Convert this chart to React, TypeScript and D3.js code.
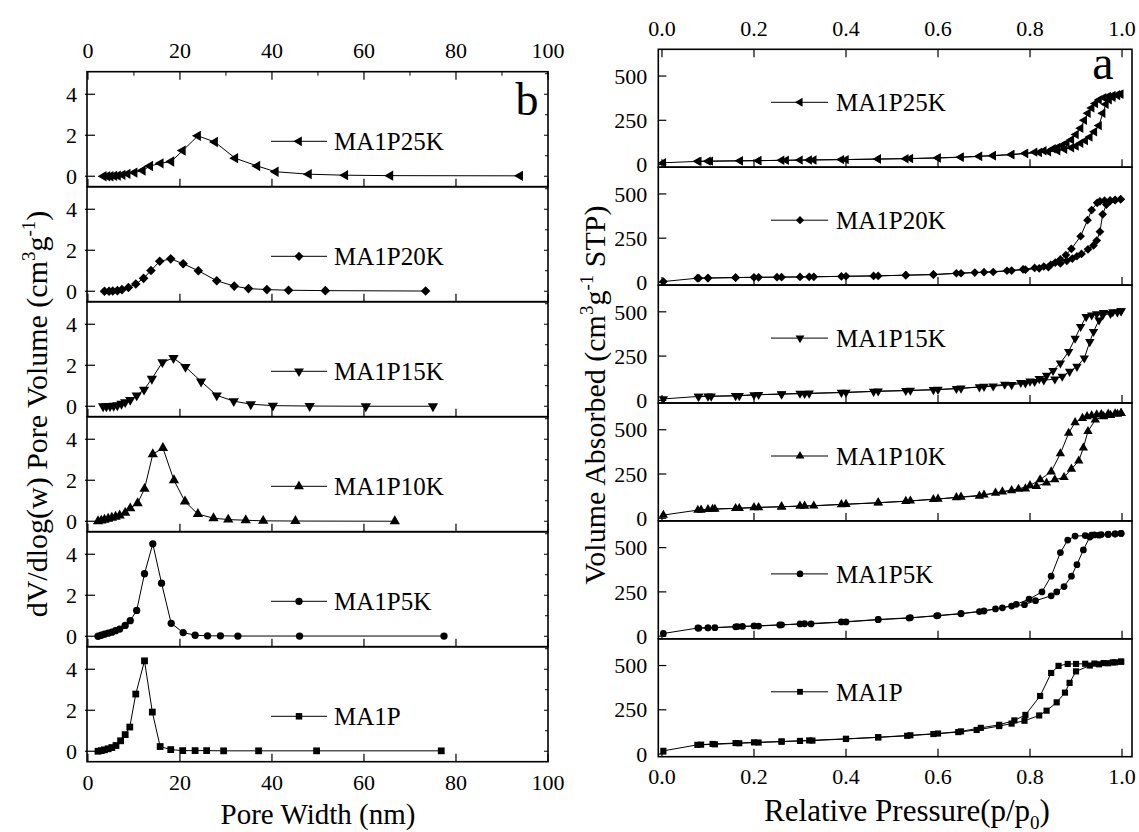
import React from 'react';
import * as d3 from 'd3';

type Pt = [number, number];

// ---------- categories ----------
const samples = ['MA1P25K', 'MA1P20K', 'MA1P15K', 'MA1P10K', 'MA1P5K', 'MA1P'];
const markerTypes = ['triangleLeft', 'diamond', 'triangleDown', 'triangleUp', 'circle', 'square'];

// ---------- tick labels ----------
const poreTicks = [0, 20, 40, 60, 80, 100];
const poreMinorTicks = [10, 30, 50, 70, 90];
const psdYTicks = [0, 2, 4];
const psdYMinor = [1, 3, 5];
const pressTicks = [0, 0.2, 0.4, 0.6, 0.8, 1.0];
const isoYTicks = [0, 250, 500];

// ---------- (b) pore size distributions: [pore width nm, dV/dlog(w)] ----------
const psd_MA1P25K: Pt[] = [[3.4,0],[4.2,0],[4.9,0],[5.7,0.02],[6.5,0.03],[7.5,0.07],[8.6,0.12],[10.1,0.18],[11.9,0.28],[13.5,0.5],[15.8,0.63],[18.1,0.72],[20.6,1.25],[23.9,1.97],[27.6,1.67],[32.0,0.88],[36.8,0.5],[40.8,0.22],[48.0,0.1],[55.9,0.05],[65.7,0.03],[93.9,0.02]];
const psd_MA1P20K: Pt[] = [[3.6,0],[4.6,0],[5.4,0.01],[6.4,0.03],[7.4,0.08],[8.8,0.18],[10.4,0.35],[12.1,0.63],[13.7,1.01],[15.6,1.46],[18.0,1.58],[20.7,1.34],[24.0,1.0],[28.0,0.51],[31.8,0.25],[34.9,0.13],[38.9,0.08],[43.6,0.05],[51.6,0.03],[73.4,0.01]];
const psd_MA1P15K: Pt[] = [[3.3,0],[4.0,0],[4.8,0.01],[5.6,0.02],[6.4,0.05],[7.3,0.12],[8.1,0.2],[9.2,0.31],[10.6,0.53],[12.2,0.81],[13.9,1.34],[16.2,2.15],[18.6,2.35],[21.2,1.92],[24.6,1.21],[28.0,0.53],[31.7,0.25],[35.4,0.1],[40.2,0.03],[48.2,0.01],[60.4,0],[75.0,0]];
const psd_MA1P10K: Pt[] = [[2.2,0],[2.9,0.03],[3.6,0.07],[4.4,0.12],[5.2,0.17],[6.0,0.22],[6.9,0.28],[8.1,0.41],[9.2,0.63],[10.8,0.88],[12.3,1.58],[14.1,3.27],[16.3,3.57],[18.7,2.0],[21.1,0.96],[23.9,0.35],[27.3,0.15],[30.5,0.08],[34.3,0.05],[38.1,0.02],[45.1,0.01],[66.7,0]];
const psd_MA1P5K: Pt[] = [[2.2,0],[2.9,0.05],[3.6,0.1],[4.4,0.15],[5.2,0.2],[6.0,0.27],[6.9,0.35],[8.1,0.53],[9.2,0.76],[10.6,1.26],[12.3,3.05],[14.1,4.51],[16.0,2.59],[18.1,0.63],[20.7,0.18],[23.3,0.05],[26.0,0.02],[28.8,0.02],[32.6,0.01],[46.0,0.01],[77.4,0.01]];
const psd_MA1P: Pt[] = [[2.2,0],[2.9,0.03],[3.6,0.07],[4.4,0.12],[5.2,0.18],[6.1,0.28],[7.1,0.51],[8.1,0.81],[9.1,1.18],[10.4,2.79],[12.3,4.41],[14.0,1.91],[15.7,0.23],[18.0,0.08],[20.6,0.03],[23.3,0.03],[25.8,0.03],[29.5,0.02],[37.1,0.02],[49.7,0.02],[76.8,0.02]];

// ---------- (a) N2 isotherms: [p/p0, volume adsorbed] ----------
const iso_MA1P25K_ads: Pt[] = [[0.003,10],[0.078,18],[0.10,19],[0.17,21],[0.21,22],[0.26,24],[0.30,25],[0.33,26],[0.39,28],[0.47,31],[0.53,33],[0.60,37],[0.65,41],[0.69,46],[0.72,50],[0.76,56],[0.79,62],[0.82,68],[0.84,72],[0.86,78],[0.875,86],[0.89,95],[0.90,104],[0.91,120],[0.92,135],[0.93,155],[0.94,185],[0.95,220],[0.958,290],[0.965,340],[0.972,365],[0.98,380],[0.99,390],[0.997,398]];
const iso_MA1P25K_des: Pt[] = [[0.997,398],[0.99,394],[0.98,390],[0.97,385],[0.96,378],[0.95,365],[0.942,345],[0.934,320],[0.926,290],[0.918,250],[0.91,205],[0.90,170],[0.89,140],[0.88,122],[0.87,108],[0.86,97],[0.85,89],[0.83,78],[0.81,70],[0.79,64],[0.76,57],[0.72,51],[0.69,47],[0.65,42],[0.60,38],[0.54,34],[0.47,31],[0.40,28],[0.32,26],[0.27,24],[0.21,22],[0.17,21],[0.105,19],[0.08,18]];

const iso_MA1P20K_ads: Pt[] = [[0.003,5],[0.077,24],[0.10,25],[0.16,28],[0.21,29],[0.26,30],[0.30,31],[0.33,32],[0.40,35],[0.47,37],[0.53,41],[0.59,44],[0.64,52],[0.68,56],[0.72,59],[0.76,67],[0.79,72],[0.82,80],[0.84,87],[0.866,107],[0.88,122],[0.892,135],[0.902,148],[0.912,161],[0.926,187],[0.938,209],[0.945,237],[0.952,287],[0.958,385],[0.966,440],[0.974,459],[0.985,465],[0.997,470]];
const iso_MA1P20K_des: Pt[] = [[0.997,470],[0.985,466],[0.974,463],[0.962,462],[0.952,458],[0.946,450],[0.934,409],[0.925,352],[0.91,261],[0.89,190],[0.878,155],[0.866,130],[0.855,112],[0.845,100],[0.83,90],[0.81,82],[0.785,74],[0.75,66],[0.70,58],[0.65,52],[0.59,45],[0.53,41],[0.46,37],[0.39,34],[0.32,32],[0.25,30],[0.20,29],[0.16,27],[0.10,25],[0.08,24]];

const iso_MA1P15K_ads: Pt[] = [[0.003,8],[0.079,22],[0.107,23],[0.168,26],[0.21,32],[0.26,36],[0.30,39],[0.32,40],[0.40,45],[0.47,52],[0.54,56],[0.59,60],[0.64,66],[0.69,75],[0.72,80],[0.76,88],[0.79,98],[0.81,106],[0.83,114],[0.854,120],[0.87,135],[0.886,163],[0.902,191],[0.918,238],[0.93,331],[0.938,388],[0.95,453],[0.958,481],[0.975,490],[0.99,498],[0.998,505]];
const iso_MA1P15K_des: Pt[] = [[0.998,505],[0.98,500],[0.96,495],[0.945,488],[0.934,481],[0.922,472],[0.91,416],[0.898,350],[0.884,275],[0.866,210],[0.85,168],[0.836,140],[0.82,122],[0.80,108],[0.78,100],[0.745,90],[0.70,78],[0.65,68],[0.60,61],[0.53,55],[0.46,50],[0.39,44],[0.31,38],[0.26,35],[0.20,31],[0.16,26],[0.10,23],[0.08,22]];

const iso_MA1P10K_ads: Pt[] = [[0.003,18],[0.078,46],[0.10,50],[0.115,52],[0.168,56],[0.21,61],[0.26,65],[0.30,69],[0.33,70],[0.39,78],[0.47,87],[0.53,96],[0.59,107],[0.64,117],[0.69,126],[0.725,143],[0.76,157],[0.79,167],[0.814,181],[0.836,200],[0.854,218],[0.874,231],[0.89,278],[0.906,324],[0.916,398],[0.926,491],[0.942,556],[0.96,575],[0.975,582],[0.99,588],[0.998,593]];
const iso_MA1P10K_des: Pt[] = [[0.998,593],[0.985,591],[0.97,589],[0.955,587],[0.945,585],[0.934,580],[0.924,575],[0.914,565],[0.898,541],[0.884,481],[0.866,365],[0.846,263],[0.822,218],[0.80,185],[0.775,165],[0.74,150],[0.70,132],[0.65,120],[0.60,109],[0.54,98],[0.47,88],[0.40,79],[0.31,69],[0.26,65],[0.20,61],[0.16,56],[0.11,52],[0.085,47]];

const iso_MA1P5K_ads: Pt[] = [[0.003,15],[0.078,46],[0.10,47],[0.115,48],[0.164,54],[0.175,55],[0.21,57],[0.256,63],[0.30,69],[0.324,69],[0.40,80],[0.47,93],[0.537,102],[0.597,115],[0.65,126],[0.69,139],[0.725,154],[0.76,170],[0.788,178],[0.812,200],[0.846,228],[0.858,250],[0.874,280],[0.89,339],[0.902,404],[0.916,487],[0.93,560],[0.95,570],[0.97,574],[0.985,577],[0.998,580]];
const iso_MA1P5K_des: Pt[] = [[0.998,580],[0.985,578],[0.97,576],[0.955,574],[0.94,572],[0.934,570],[0.92,568],[0.898,565],[0.882,543],[0.866,472],[0.846,339],[0.826,250],[0.798,209],[0.77,180],[0.74,160],[0.70,142],[0.65,128],[0.60,116],[0.54,104],[0.47,94],[0.39,80],[0.31,70],[0.26,64],[0.20,58],[0.16,53],[0.10,47],[0.08,45]];

const iso_MA1P_ads: Pt[] = [[0.003,18],[0.077,52],[0.115,55],[0.168,61],[0.21,65],[0.26,70],[0.30,74],[0.327,76],[0.40,85],[0.47,94],[0.533,103],[0.59,113],[0.644,124],[0.684,136],[0.733,158],[0.76,172],[0.788,188],[0.82,218],[0.836,245],[0.858,292],[0.876,347],[0.886,402],[0.90,467],[0.93,500],[0.95,507],[0.97,513],[0.985,518],[0.998,522]];
const iso_MA1P_des: Pt[] = [[0.998,522],[0.98,518],[0.96,514],[0.94,511],[0.92,510],[0.90,509],[0.882,509],[0.862,498],[0.846,458],[0.822,328],[0.79,221],[0.766,190],[0.733,165],[0.693,148],[0.65,128],[0.60,116],[0.54,106],[0.47,95],[0.40,86],[0.32,77],[0.26,71],[0.20,66],[0.16,62],[0.11,57],[0.085,53]];

const psdSeries: Pt[][] = [psd_MA1P25K, psd_MA1P20K, psd_MA1P15K, psd_MA1P10K, psd_MA1P5K, psd_MA1P];
const isoSeries: Pt[][] = [
  [...iso_MA1P25K_ads, ...iso_MA1P25K_des],
  [...iso_MA1P20K_ads, ...iso_MA1P20K_des],
  [...iso_MA1P15K_ads, ...iso_MA1P15K_des],
  [...iso_MA1P10K_ads, ...iso_MA1P10K_des],
  [...iso_MA1P5K_ads, ...iso_MA1P5K_des],
  [...iso_MA1P_ads, ...iso_MA1P_des],
];

// ---------- layout ----------
const W = 1139;
const H = 832;
const FONT = '"Liberation Serif", Tinos, "Times New Roman", "DejaVu Serif", "Noto Serif", serif';
const LP = { x0: 87, x1: 548, top: 71.7, pitch: 115, yMin: -0.51, yMax: 5.1 };
const RP = { x0: 658.3, x1: 1132, top: 49.3, pitch: 117.9, yMin: -15, yMax: 651 };

const xL = d3.scaleLinear().domain([-0.2, 100]).range([LP.x0, LP.x1]);
const xR = d3.scaleLinear().domain([-0.008, 1.0217]).range([RP.x0, RP.x1]);

const TS = { fontFamily: FONT } as const;

function symbolPath(type: string, size: number): { d: string; rot: number } {
  switch (type) {
    case 'square': return { d: d3.symbol(d3.symbolSquare, size)() as string, rot: 0 };
    case 'circle': return { d: d3.symbol(d3.symbolCircle, size)() as string, rot: 0 };
    case 'triangleUp': return { d: d3.symbol(d3.symbolTriangle, size)() as string, rot: 0 };
    case 'triangleDown': return { d: d3.symbol(d3.symbolTriangle, size)() as string, rot: 180 };
    case 'triangleLeft': return { d: d3.symbol(d3.symbolTriangle, size)() as string, rot: -90 };
    case 'diamond': return { d: d3.symbol(d3.symbolSquare, size)() as string, rot: 45 };
    default: return { d: d3.symbol(d3.symbolCircle, size)() as string, rot: 0 };
  }
}

function Markers({ pts, type, size }: { pts: Pt[]; type: string; size: number }) {
  const { d, rot } = symbolPath(type, size);
  return (
    <g>
      {pts.map((p, k) => (
        <path key={k} d={d} transform={`translate(${p[0]},${p[1]}) rotate(${rot})`} fill="#000" />
      ))}
    </g>
  );
}

const TICK_FS = 22;
const MAJ = 8;
const MIN = 4;

function LeftPanel({ i }: { i: number }) {
  const top = LP.top + i * LP.pitch;
  const bottom = top + LP.pitch;
  const y = d3.scaleLinear().domain([LP.yMin, LP.yMax]).range([bottom, top]);
  const data = psdSeries[i];
  const line = d3.line<Pt>().x((d) => xL(d[0])).y((d) => y(d[1]));
  const pts: Pt[] = data.map((d) => [xL(d[0]), y(d[1])]);
  const legY = top + 69.6;
  const lm = symbolPath(markerTypes[i], 42);
  return (
    <g>
      <path d={line(data) as string} fill="none" stroke="#000" strokeWidth={1} />
      <Markers pts={pts} type={markerTypes[i]} size={markerTypes[i] === 'circle' ? 42 : 46} />
      <line x1={271} x2={327} y1={legY} y2={legY} stroke="#000" strokeWidth={1} />
      <path d={lm.d} transform={`translate(299,${legY}) rotate(${lm.rot})`} fill="#000" />
      <text style={TS} x={334} y={legY} dy="0.35em" fontSize={25}>{samples[i]}</text>
      {psdYTicks.map((t) => (
        <g key={t}>
          <line x1={LP.x0 - 2} x2={LP.x0 + MAJ} y1={y(t)} y2={y(t)} stroke="#000" strokeWidth={1.2} />
          <line x1={LP.x1} x2={LP.x1 - MIN} y1={y(t)} y2={y(t)} stroke="#000" strokeWidth={1} />
          <text style={TS} x={LP.x0 - 10} y={y(t)} dy="0.35em" textAnchor="end" fontSize={TICK_FS}>{t}</text>
        </g>
      ))}
      {psdYMinor.map((t) => (
        <line key={t} x1={LP.x1} x2={LP.x1 - 3} y1={y(t)} y2={y(t)} stroke="#000" strokeWidth={1} />
      ))}
      {poreTicks.map((t) => (
        <line key={t} x1={xL(t)} x2={xL(t)} y1={bottom} y2={bottom - MAJ} stroke="#000" strokeWidth={1.2} />
      ))}
      {i === 0 && (
        <g>
          {poreTicks.map((t) => (
            <g key={t}>
              <line x1={xL(t)} x2={xL(t)} y1={top} y2={top + MAJ} stroke="#000" strokeWidth={1.2} />
              <text style={TS} x={xL(t)} y={top - 21} dy="0.35em" textAnchor="middle" fontSize={TICK_FS}>{t}</text>
            </g>
          ))}
          {poreMinorTicks.map((t) => (
            <line key={t} x1={xL(t)} x2={xL(t)} y1={top} y2={top + MIN} stroke="#000" strokeWidth={1} />
          ))}
          <text style={TS} x={527} y={115} textAnchor="middle" fontSize={46}>b</text>
        </g>
      )}
      {i === samples.length - 1 && (
        <g>
          {poreTicks.map((t) => (
            <text style={TS} key={t} x={xL(t)} y={bottom + 21} dy="0.35em" textAnchor="middle" fontSize={TICK_FS}>{t}</text>
          ))}
        </g>
      )}
      <rect x={LP.x0} y={top} width={LP.x1 - LP.x0} height={LP.pitch} fill="none" stroke="#000" strokeWidth={1.6} />
    </g>
  );
}

function RightPanel({ i }: { i: number }) {
  const top = RP.top + i * RP.pitch;
  const bottom = top + RP.pitch;
  const y = d3.scaleLinear().domain([RP.yMin, RP.yMax]).range([bottom, top]);
  const data = isoSeries[i];
  const line = d3.line<Pt>().x((d) => xR(d[0])).y((d) => y(d[1]));
  const pts: Pt[] = data.map((d) => [xR(d[0]), y(d[1])]);
  const legY = top + 53;
  const lm = symbolPath(markerTypes[i], 34);
  return (
    <g>
      <path d={line(data) as string} fill="none" stroke="#000" strokeWidth={1} />
      <Markers pts={pts} type={markerTypes[i]} size={markerTypes[i] === 'circle' ? 36 : 38} />
      <line x1={771} x2={828} y1={legY} y2={legY} stroke="#000" strokeWidth={1} />
      <path d={lm.d} transform={`translate(800,${legY}) rotate(${lm.rot})`} fill="#000" />
      <text style={TS} x={836} y={legY} dy="0.35em" fontSize={25}>{samples[i]}</text>
      {isoYTicks.map((t) => (
        <g key={t}>
          <line x1={RP.x0} x2={RP.x0 + MAJ} y1={y(t)} y2={y(t)} stroke="#000" strokeWidth={1.2} />
          <text style={TS} x={RP.x0 - 11} y={y(t)} dy="0.35em" textAnchor="end" fontSize={TICK_FS}>{t}</text>
        </g>
      ))}
      {pressTicks.map((t) => (
        <line key={t} x1={xR(t)} x2={xR(t)} y1={bottom} y2={bottom - MAJ} stroke="#000" strokeWidth={1.2} />
      ))}
      {i === 0 && (
        <g>
          {pressTicks.map((t) => (
            <g key={t}>
              <line x1={xR(t)} x2={xR(t)} y1={top} y2={top + MAJ} stroke="#000" strokeWidth={1.2} />
              <text style={TS} x={xR(t)} y={top - 21} dy="0.35em" textAnchor="middle" fontSize={TICK_FS}>{t.toFixed(1)}</text>
            </g>
          ))}
          <text style={TS} x={1103} y={79} textAnchor="middle" fontSize={48}>a</text>
        </g>
      )}
      {i === samples.length - 1 && (
        <g>
          {pressTicks.map((t) => (
            <text style={TS} key={t} x={xR(t)} y={bottom + 20} dy="0.35em" textAnchor="middle" fontSize={TICK_FS}>{t.toFixed(1)}</text>
          ))}
        </g>
      )}
      <rect x={RP.x0} y={top} width={RP.x1 - RP.x0} height={RP.pitch} fill="none" stroke="#000" strokeWidth={1.6} />
    </g>
  );
}

export default function App() {
  return (
    <svg
      width={W}
      height={H}
      viewBox={`0 0 ${W} ${H}`}
      style={{ position: 'absolute', left: 0, top: 0, background: '#fff', fontFamily: FONT }}
    >
      <rect x={0} y={0} width={W} height={H} fill="#fff" />
      {samples.map((s, i) => (
        <LeftPanel key={'l' + s} i={i} />
      ))}
      {samples.map((s, i) => (
        <RightPanel key={'r' + s} i={i} />
      ))}
      <text style={TS} transform="translate(36,414) rotate(-90)" textAnchor="middle" dy="0.35em" fontSize={30}>
        dV/dlog(w) Pore Volume (cm<tspan dy={-12} fontSize={19}>3</tspan><tspan dy={12}>g</tspan><tspan dy={-12} fontSize={19}>-1</tspan><tspan dy={12}>)</tspan>
      </text>
      <text style={TS} transform="translate(594,395) rotate(-90)" textAnchor="middle" dy="0.35em" fontSize={30}>
        Volume Absorbed (cm<tspan dy={-12} fontSize={19}>3</tspan><tspan dy={12}>g</tspan><tspan dy={-12} fontSize={19}>-1</tspan><tspan dy={12}> STP)</tspan>
      </text>
      <text style={TS} x={318} y={824} textAnchor="middle" fontSize={29}>Pore Width (nm)</text>
      <text style={TS} x={907} y={821} textAnchor="middle" fontSize={31}>
        Relative Pressure(p/p<tspan dy={8} fontSize={19}>0</tspan><tspan dy={-8}>)</tspan>
      </text>
    </svg>
  );
}
